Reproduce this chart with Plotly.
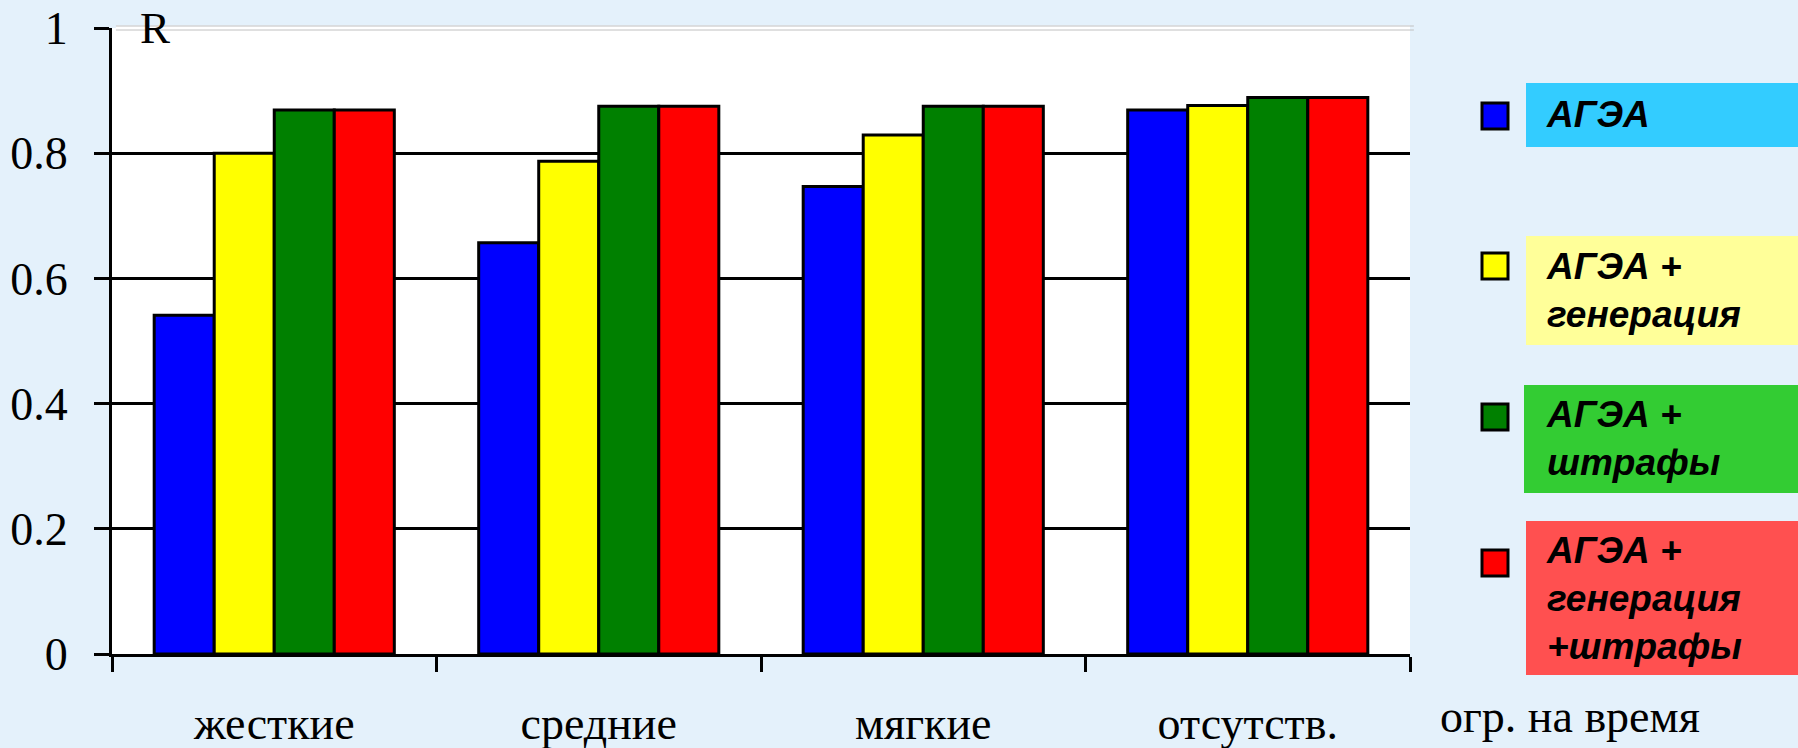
import plotly.graph_objects as go

# ---- data ----
categories = ["жесткие", "средние", "мягкие", "отсутств."]
series_names = ["АГЭА", "АГЭА + генерация", "АГЭА + штрафы", "АГЭА + генерация +штрафы"]
legend_texts = ["АГЭА", "АГЭА +<br>генерация", "АГЭА +<br>штрафы", "АГЭА +<br>генерация<br>+штрафы"]
v_agea = [0.541, 0.657, 0.747, 0.869]
v_gen = [0.800, 0.787, 0.829, 0.876]
v_pen = [0.869, 0.875, 0.875, 0.889]
v_gen_pen = [0.869, 0.875, 0.875, 0.889]
y_ticks = [0, 0.2, 0.4, 0.6, 0.8, 1]
y_tick_labels = ["0", "0.2", "0.4", "0.6", "0.8", "1"]
y_title = "R"
x_title = "огр. на время"

# ---- styles ----
bar_colors = ["#0000FF", "#FFFF00", "#008000", "#FF0000"]
box_colors = ["#33CCFF", "#FFFF99", "#33CC33", "#FF5050"]
page_bg = "#E4F1FB"

W, H = 1798, 748
L, R, T, B = 112, 388, 28, 94
PW, PH = W - L - R, H - T - B


def xp(px):
    return (px - L) / PW


def yp(py):
    return (H - B - py) / PH


fig = go.Figure()
for name, vals, col in zip(series_names, [v_agea, v_gen, v_pen, v_gen_pen], bar_colors):
    fig.add_trace(go.Bar(
        x=categories, y=vals, name=name,
        marker=dict(color=col, line=dict(color="black", width=3)),
        showlegend=False,
    ))

serif = "Liberation Serif, Times New Roman, serif"

fig.update_layout(
    width=W, height=H,
    margin=dict(l=L, r=R, t=T, b=B, autoexpand=False),
    paper_bgcolor=page_bg,
    plot_bgcolor="white",
    barmode="group", bargap=0.26, bargroupgap=0,
    font=dict(family=serif, size=46, color="black"),
    xaxis=dict(
        type="category", showline=True, linecolor="black", linewidth=3,
        ticks="outside", tickson="boundaries", ticklen=15, tickwidth=3, tickcolor="black",
        showgrid=False, automargin=False, ticklabelstandoff=27,
        tickfont=dict(family=serif, size=46, color="black"),
    ),
    yaxis=dict(
        range=[0, 1], tickvals=y_ticks, ticktext=y_tick_labels,
        showline=True, linecolor="black", linewidth=3,
        ticks="outside", ticklen=15, tickwidth=3, tickcolor="black",
        showgrid=True, gridcolor="black", gridwidth=3, zeroline=False,
        automargin=False, ticklabelstandoff=17,
        tickfont=dict(family=serif, size=46, color="black"),
    ),
)

shapes = []
# cover the black gridline at the top and draw the thin grey frame instead
shapes.append(dict(type="line", xref="paper", yref="paper", x0=0.003, x1=1, y0=1, y1=1,
                   line=dict(color="white", width=5), layer="above"))
for off in (2, -2):
    shapes.append(dict(type="line", xref="paper", yref="paper", ysizemode="pixel", yanchor=1,
                       x0=0.003, x1=1.003, y0=off, y1=off,
                       line=dict(color="#C0C0C0", width=1), layer="above"))

# legend boxes and swatches
box_rects = [(1526, 83, 1798, 147), (1526, 236, 1798, 345), (1524, 385, 1798, 493), (1526, 521, 1798, 675)]
swatch_centers = [(1495, 116), (1495, 266), (1495, 417), (1495, 563)]
annotations = []
for (x0, y0, x1, y1), bc, (cx, cy), col, txt in zip(box_rects, box_colors, swatch_centers, bar_colors, legend_texts):
    shapes.append(dict(type="rect", xref="paper", yref="paper",
                       x0=xp(x0), x1=xp(x1), y0=yp(y1), y1=yp(y0),
                       fillcolor=bc, line=dict(width=0), layer="below"))
    shapes.append(dict(type="rect", xref="paper", yref="paper",
                       x0=xp(cx - 13), x1=xp(cx + 13), y0=yp(cy + 13), y1=yp(cy - 13),
                       fillcolor=col, line=dict(color="black", width=3), layer="above"))
    annotations.append(dict(
        xref="paper", yref="paper", x=xp(1544), y=yp((y0 + y1) / 2),
        xanchor="left", yanchor="middle", align="left", showarrow=False,
        text=txt,
        font=dict(family="Liberation Sans, Arial, sans-serif", size=37, color="black",
                  weight="bold", style="italic"),
    ))

annotations.append(dict(xref="paper", yref="paper", x=xp(138), y=1, xanchor="left", yanchor="middle",
                        showarrow=False, text=y_title,
                        font=dict(family=serif, size=45, color="black")))
annotations.append(dict(xref="paper", yref="paper", x=xp(1570), y=yp(716), xanchor="center",
                        yanchor="middle", showarrow=False, text=x_title,
                        font=dict(family=serif, size=46, color="black")))

fig.update_layout(shapes=shapes, annotations=annotations)
fig.write_html(
    "out.html",
    config={"displayModeBar": False},
    post_script="document.body.style.margin='0';document.body.style.background='" + page_bg + "';",
)
